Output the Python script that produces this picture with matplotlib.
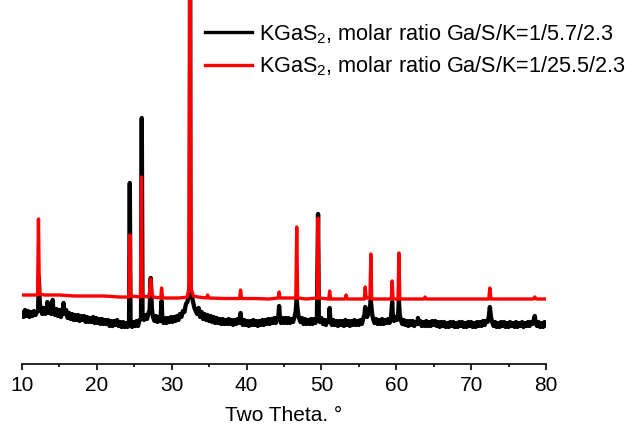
import numpy as np
import matplotlib
matplotlib.use("Agg")
import matplotlib.pyplot as plt
from matplotlib.ticker import MultipleLocator

plt.rcParams['font.family'] = ['Liberation Sans', 'DejaVu Sans']
plt.rcParams['mathtext.fontset'] = 'custom'
plt.rcParams['mathtext.rm'] = 'Liberation Sans'
plt.rcParams['mathtext.it'] = 'Liberation Sans:italic'

# XRD patterns (2theta in degrees, intensity in arb. units)
# Ga/S/K = 1/5.7/2.3  (black)
black_pts = [
    (10.0, 51), (10.2, 47), (10.4, 54), (10.6, 48), (10.8, 53), (11.0, 47), (11.2, 52),
    (11.4, 48), (11.6, 53), (11.8, 49), (12.0, 52), (12.15, 53), (12.25, 87), (12.38, 60),
    (12.55, 55), (12.7, 50), (12.9, 56), (13.1, 50), (13.3, 54), (13.4, 62), (13.5, 51),
    (13.7, 56), (13.9, 50), (14.0, 55), (14.1, 64), (14.2, 52), (14.4, 49), (14.6, 55),
    (14.8, 48), (15.0, 54), (15.2, 47), (15.4, 52), (15.55, 61), (15.7, 50), (15.9, 54),
    (16.1, 46), (16.3, 51), (16.5, 45), (16.7, 50), (16.9, 44), (17.1, 49), (17.3, 44),
    (17.5, 49), (17.7, 43), (17.9, 48), (18.1, 44), (18.3, 48), (18.5, 42), (18.7, 47),
    (18.9, 42), (19.1, 46), (19.3, 42), (19.5, 47), (19.7, 41), (19.9, 46), (20.1, 41),
    (20.3, 45), (20.5, 40), (20.7, 45), (20.9, 40), (21.1, 44), (21.3, 40), (21.5, 44),
    (21.7, 38), (21.9, 43), (22.1, 38), (22.3, 43), (22.5, 39), (22.7, 44), (22.9, 38),
    (23.1, 42), (23.3, 37), (23.5, 42), (23.7, 37), (23.9, 41), (24.1, 37), (24.3, 40),
    (24.4, 181), (24.5, 41), (24.7, 37), (24.9, 42), (25.1, 38), (25.3, 43), (25.5, 38),
    (25.7, 44), (25.9, 45), (26.0, 246), (26.1, 49), (26.3, 44), (26.5, 49), (26.7, 45),
    (26.9, 51), (27.05, 54), (27.2, 86), (27.35, 55), (27.5, 47), (27.7, 43), (27.9, 48),
    (28.1, 42), (28.3, 47), (28.5, 43), (28.65, 63), (28.75, 45), (28.9, 41), (29.1, 46),
    (29.3, 41), (29.5, 46), (29.7, 42), (29.9, 47), (30.1, 42), (30.3, 47), (30.5, 43),
    (30.7, 48), (30.9, 44), (31.1, 50), (31.3, 47), (31.5, 53), (31.7, 52), (31.9, 60),
    (32.1, 62), (32.3, 72), (32.4, 80), (32.45, 450), (32.5, 80), (32.6, 70), (32.8, 64),
    (33.0, 57), (33.2, 53), (33.4, 50), (33.6, 56), (33.8, 47), (34.0, 52), (34.2, 45),
    (34.4, 50), (34.6, 44), (34.8, 49), (35.0, 43), (35.2, 48), (35.4, 42), (35.6, 47),
    (35.8, 41), (36.0, 46), (36.2, 41), (36.4, 45), (36.6, 40), (36.8, 45), (37.0, 40),
    (37.2, 44), (37.4, 40), (37.6, 45), (37.8, 40), (38.0, 44), (38.2, 39), (38.4, 44),
    (38.6, 40), (38.8, 45), (39.0, 41), (39.2, 51), (39.3, 42), (39.5, 39), (39.7, 44),
    (39.9, 39), (40.1, 43), (40.3, 38), (40.5, 43), (40.7, 39), (40.9, 44), (41.1, 39),
    (41.3, 43), (41.5, 38), (41.7, 43), (41.9, 39), (42.1, 44), (42.3, 39), (42.5, 44),
    (42.7, 40), (42.9, 45), (43.1, 40), (43.3, 45), (43.5, 41), (43.7, 46), (43.9, 41),
    (44.1, 46), (44.25, 48), (44.35, 58), (44.45, 46), (44.6, 41), (44.8, 46), (45.0, 41),
    (45.2, 46), (45.4, 41), (45.6, 46), (45.8, 41), (46.0, 45), (46.2, 42), (46.4, 47),
    (46.55, 52), (46.7, 64), (46.85, 52), (47.0, 46), (47.2, 42), (47.4, 46), (47.6, 40),
    (47.8, 45), (48.0, 40), (48.2, 44), (48.4, 40), (48.6, 45), (48.8, 40), (49.0, 45),
    (49.2, 41), (49.4, 47), (49.55, 150), (49.65, 47), (49.8, 42), (50.0, 46), (50.2, 40),
    (50.4, 44), (50.6, 39), (50.8, 44), (51.0, 42), (51.1, 56), (51.2, 43), (51.4, 39),
    (51.6, 44), (51.8, 39), (52.0, 43), (52.2, 38), (52.4, 43), (52.6, 39), (52.8, 43),
    (53.0, 38), (53.2, 44), (53.4, 39), (53.6, 43), (53.8, 38), (54.0, 43), (54.2, 39),
    (54.4, 44), (54.6, 39), (54.8, 43), (55.0, 39), (55.2, 44), (55.4, 40), (55.6, 46),
    (55.75, 49), (55.85, 57), (55.95, 49), (56.1, 47), (56.3, 51), (56.45, 55), (56.6, 64),
    (56.75, 51), (56.9, 45), (57.1, 41), (57.3, 45), (57.5, 40), (57.7, 44), (57.9, 40),
    (58.1, 45), (58.3, 40), (58.5, 44), (58.7, 41), (58.9, 45), (59.1, 41), (59.3, 47),
    (59.45, 62), (59.55, 47), (59.7, 43), (59.9, 47), (60.1, 44), (60.25, 50), (60.35, 64),
    (60.45, 50), (60.6, 44), (60.8, 40), (61.0, 44), (61.2, 39), (61.4, 43), (61.6, 38),
    (61.8, 43), (62.0, 39), (62.2, 43), (62.4, 38), (62.6, 42), (62.8, 40), (62.9, 46),
    (63.0, 40), (63.2, 43), (63.4, 38), (63.6, 42), (63.8, 38), (64.0, 43), (64.2, 38),
    (64.4, 42), (64.6, 38), (64.8, 43), (65.0, 39), (65.2, 43), (65.4, 38), (65.6, 42),
    (65.8, 37), (66.0, 42), (66.2, 38), (66.4, 42), (66.6, 37), (66.8, 41), (67.0, 37),
    (67.2, 42), (67.4, 38), (67.6, 42), (67.8, 37), (68.0, 41), (68.2, 37), (68.4, 42),
    (68.6, 38), (68.8, 42), (69.0, 37), (69.2, 41), (69.4, 37), (69.6, 42), (69.8, 38),
    (70.0, 42), (70.2, 37), (70.4, 41), (70.6, 37), (70.8, 42), (71.0, 38), (71.2, 42),
    (71.4, 38), (71.6, 43), (71.8, 39), (72.0, 43), (72.2, 42), (72.35, 47), (72.5, 57),
    (72.65, 47), (72.8, 42), (73.0, 38), (73.2, 42), (73.4, 37), (73.6, 41), (73.8, 37),
    (74.0, 42), (74.2, 38), (74.4, 42), (74.6, 37), (74.8, 41), (75.0, 37), (75.2, 42),
    (75.4, 38), (75.6, 41), (75.8, 37), (76.0, 42), (76.2, 37), (76.4, 41), (76.6, 38),
    (76.8, 42), (77.0, 37), (77.2, 41), (77.4, 38), (77.6, 42), (77.8, 38), (78.0, 42),
    (78.2, 40), (78.4, 45), (78.5, 48), (78.6, 42), (78.8, 38), (79.0, 42), (79.2, 37),
    (79.4, 41), (79.6, 37), (79.8, 42), (80.0, 39),
]

# Ga/S/K = 1/25.5/2.3  (red)
red_pts = [
    (10.0, 69), (11.0, 69), (12.08, 69), (12.2, 145), (12.32, 70), (13.0, 69), (14.0, 69),
    (15.0, 69), (16.0, 68.5), (17.0, 68), (18.0, 68), (19.0, 68), (20.0, 68), (21.0, 68),
    (22.0, 67.5), (23.0, 67), (24.28, 67), (24.4, 129), (24.52, 68), (25.83, 67),
    (25.95, 187), (26.07, 68), (26.9, 67), (27.05, 72), (27.2, 85), (27.35, 72), (27.5, 67),
    (28.53, 66), (28.65, 76), (28.77, 66), (30.0, 66), (31.0, 66), (32.1, 67), (32.3, 75),
    (32.45, 450), (32.6, 75), (32.9, 68), (33.5, 67), (34.65, 66), (34.8, 69), (34.95, 66),
    (37.0, 65.5), (39.08, 65.5), (39.2, 74), (39.32, 65.5), (41.0, 65.5), (43.0, 65),
    (44.23, 66), (44.35, 72), (44.47, 66), (46.58, 66), (46.7, 137), (46.82, 66), (48.0, 65),
    (49.43, 66), (49.55, 146), (49.67, 66), (50.98, 65), (51.1, 73), (51.22, 65),
    (53.15, 65), (53.3, 69), (53.45, 65), (55.73, 65), (55.85, 77), (55.97, 66),
    (56.48, 66), (56.6, 110), (56.72, 65), (58.0, 65), (59.33, 65), (59.45, 83),
    (59.57, 65), (60.23, 65), (60.35, 111), (60.47, 65), (62.0, 65), (63.7, 65),
    (63.85, 67), (64.0, 65), (66.0, 65), (68.0, 65), (70.0, 65), (72.35, 65), (72.5, 76),
    (72.65, 65), (75.0, 65), (78.3, 65), (78.5, 67), (78.7, 65), (80.0, 65),
]

labels = ['KGaS$_2$, molar ratio Ga/S/K=1/5.7/2.3',
          'KGaS$_2$, molar ratio Ga/S/K=1/25.5/2.3']
colors = ['black', 'red']
widths = [3.1, 2.4]   # black trace is noisier, looks heavier

fig = plt.figure(figsize=(6.31, 4.30), dpi=100)
ax = fig.add_axes([22/631, 66/430, 524/631, 364/430])

for pts, lab, col, lw in zip([black_pts, red_pts], labels, colors, widths):
    tt, counts = np.array(pts).T
    ax.plot(tt, counts, color=col, lw=lw, label=lab)

ax.set_xlim(10, 80)
ax.set_ylim(0, 364)

for side in ['left', 'right', 'top']:
    ax.spines[side].set_visible(False)
ax.spines['bottom'].set_linewidth(1.2)
ax.set_yticks([])
ax.xaxis.set_major_locator(MultipleLocator(10))
ax.xaxis.set_minor_locator(MultipleLocator(5))
ax.tick_params(axis='x', which='major', direction='out', length=4.5, width=1.2,
               labelsize=15, pad=4)
ax.tick_params(axis='x', which='minor', direction='out', length=2.5, width=1.2)
ax.set_xlabel('Two Theta. °', fontsize=15, labelpad=8)

leg = ax.legend(loc='upper left', bbox_to_anchor=(205/631, 1 - 22/430),
                bbox_transform=fig.transFigure, frameon=False, fontsize=15.6,
                borderpad=0, borderaxespad=0, handlelength=2.18, handletextpad=0.32,
                labelspacing=0.4)
for h in leg.get_lines():
    h.set_linewidth(2.4)

fig.savefig('out.png', dpi=100)
